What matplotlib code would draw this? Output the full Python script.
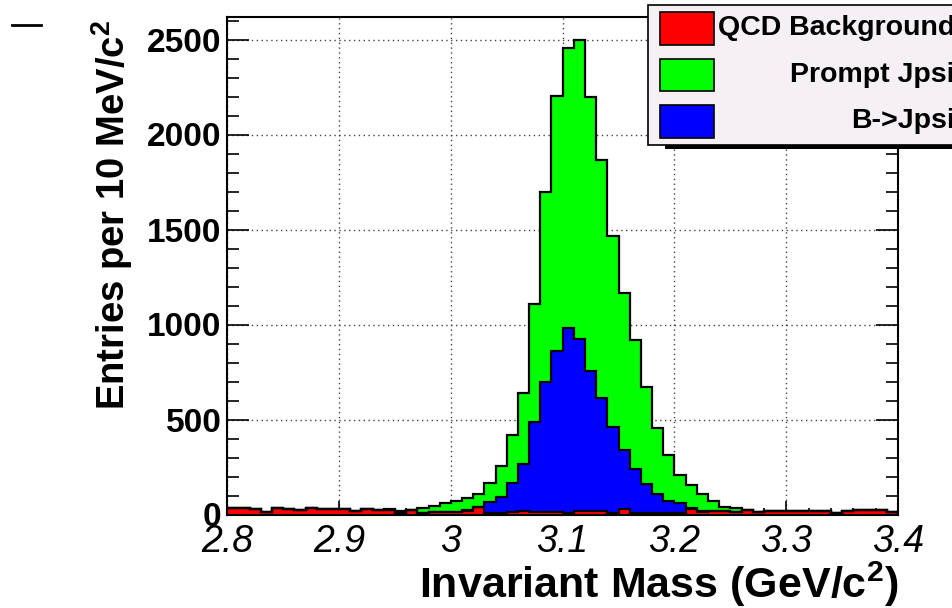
import numpy as np
import matplotlib
matplotlib.use("Agg")
import matplotlib.pyplot as plt
from matplotlib.patches import Rectangle
from matplotlib.lines import Line2D

plt.rcParams['font.family'] = ['Liberation Sans', 'DejaVu Sans']
plt.rcParams['mathtext.fontset'] = 'custom'
plt.rcParams['mathtext.rm'] = 'Liberation Sans:bold'
plt.rcParams['mathtext.bf'] = 'Liberation Sans:bold'
plt.rcParams['mathtext.default'] = 'regular'

# invariant mass histogram, 10 MeV bins from 2.8 to 3.4 GeV
m_lo, m_hi, n_bins = 2.8, 3.4, 60

qcd_bkg = [35, 35, 28, 15, 33, 27, 25, 33, 28, 28,
           30, 20, 30, 25, 22, 8, 25, 8, 12, 15,
           15, 16, 39, 8, 8, 15, 20, 12, 12, 15,
           10, 18, 18, 18, 10, 30, 10, 10, 8, 10,
           8, 28, 12, 16, 16, 14, 25, 14, 20, 20,
           20, 20, 20, 20, 10, 20, 25, 25, 25, 15]

b_jpsi = [0, 0, 0, 0, 0, 0, 0, 0, 0, 0,
          0, 0, 0, 0, 0, 0, 0, 0, 0, 0,
          0, 10, 3, 57, 85, 152, 247, 473, 683, 845,
          970, 904, 736, 595, 450, 311, 231, 152, 98, 59,
          54, 4, 5, 0, 0, 0, 0, 0, 0, 0,
          0, 0, 0, 0, 0, 0, 0, 0, 0, 0]

prompt_jpsi = [0, 0, 0, 0, 0, 0, 0, 0, 0, 0,
               0, 0, 0, 0, 5, 12, 0, 24, 33, 43,
               57, 60, 65, 100, 160, 253, 371, 625, 1005, 1343,
               1475, 1578, 1443, 1251, 1005, 824, 679, 511, 351, 243,
               148, 121, 93, 53, 26, 19, 0, 0, 0, 0,
               0, 0, 0, 0, 0, 0, 0, 0, 0, 0]

legend_names = ['QCD Background', 'Prompt Jpsi', 'B->Jpsi']
legend_colors = ['#ff0000', '#00ff00', '#0000ff']

W, H = 953, 608
fig = plt.figure(figsize=(W / 100, H / 100), dpi=100)
ax = fig.add_axes([227.3 / W, 1 - 514.5 / H, (898 - 227.3) / W, (514.5 - 16.7) / H])

edges = np.linspace(m_lo, m_hi, n_bins + 1)
red = np.array(qcd_bkg, float)
blue = red + np.array(b_jpsi, float)
green = blue + np.array(prompt_jpsi, float)

# stack drawn top-down, each level filled from zero with a black outline
for vals, col in [(green, '#00ff00'), (blue, '#0000ff'), (red, '#ff0000')]:
    ax.stairs(vals, edges, baseline=0, fill=True, facecolor=col,
              edgecolor='none', zorder=2)
    ax.stairs(vals, edges, baseline=None, color='black', lw=1.6, zorder=3)

ax.set_xlim(m_lo, m_hi)
ax.set_ylim(0, 2620)

ax.set_xticks(np.arange(2.8, 3.41, 0.1))
ax.set_xticklabels(['2.8', '2.9', '3', '3.1', '3.2', '3.3', '3.4'],
                   fontsize=27, fontstyle='italic')
ax.set_xticks(np.arange(2.8, 3.401, 0.02), minor=True)
ax.set_yticks(np.arange(0, 2501, 500))
ax.set_yticklabels(['0', '500', '1000', '1500', '2000', '2500'],
                   fontsize=24, fontweight='bold')
ax.set_yticks(np.arange(0, 2601, 100), minor=True)

ax.tick_params(axis='x', which='major', direction='in', length=10, width=1.2,
               pad=7, top=False)
ax.tick_params(axis='x', which='minor', direction='in', length=5, width=1.2,
               top=False)
ax.tick_params(axis='y', which='major', direction='in', length=16, width=1.2,
               pad=4, right=True)
ax.tick_params(axis='y', which='minor', direction='in', length=8.5, width=1.2,
               right=True)

ax.grid(True, which='major', color='#444444', linestyle=(0, (1, 2.5)),
        linewidth=1.0, zorder=1)
ax.set_axisbelow(True)
for sp in ax.spines.values():
    sp.set_linewidth(1.5)
    sp.set_zorder(4)

def fx(x):
    return x / W

def fy(y):
    return 1 - y / H

fig.text(fx(898), fy(598), 'Invariant Mass (GeV/c$^{2}$)', ha='right',
         va='baseline', fontsize=31, fontweight='bold')
fig.text(fx(112), fy(20), 'Entries per 10 MeV/c$^{2}$', ha='center',
         va='top', rotation=90, fontsize=27.5, fontweight='bold')

# legend box, partly running off the right edge
fig.add_artist(Rectangle((fx(665), fy(148.5)), fx(320), 143.5 / H,
                         transform=fig.transFigure, facecolor='black',
                         edgecolor='none', zorder=5))
fig.add_artist(Rectangle((fx(648), fy(145)), fx(320), 140 / H,
                         transform=fig.transFigure, facecolor='#f4f0f4',
                         edgecolor='black', lw=1.2, zorder=6))
for i, (name, col) in enumerate(zip(legend_names, legend_colors)):
    y0 = 12 + i * 46.5
    fig.add_artist(Rectangle((fx(660), fy(y0 + 32.5)), fx(54), 32.5 / H,
                             transform=fig.transFigure, facecolor=col,
                             edgecolor='black', lw=1.2, zorder=7))
    fig.text(fx(955), fy(y0 + 16), name, ha='right', va='center',
             fontsize=20.5, fontweight='bold', zorder=8)

fig.add_artist(Line2D([fx(12), fx(41)], [fy(25), fy(25)],
                      transform=fig.transFigure, color='black', lw=2))

fig.savefig('out.png', dpi=100)
